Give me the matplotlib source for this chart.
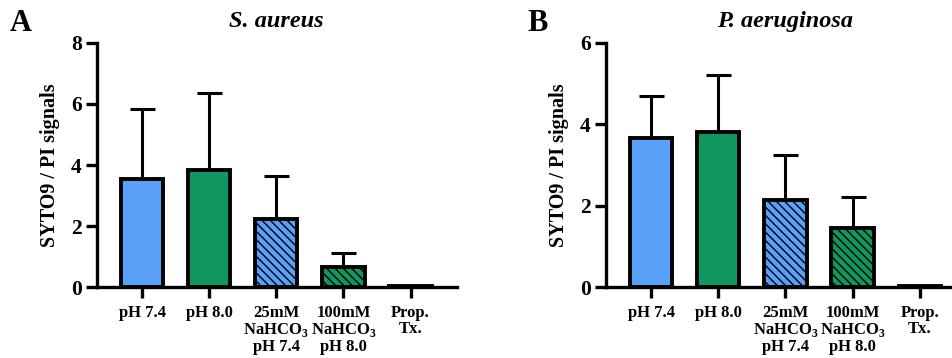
import matplotlib
matplotlib.use("Agg")
import matplotlib.pyplot as plt
import numpy as np

plt.rcParams['font.family'] = ['Liberation Serif', 'DejaVu Serif']
plt.rcParams['font.weight'] = 'bold'
plt.rcParams['hatch.linewidth'] = 1.0
plt.rcParams['mathtext.fontset'] = 'custom'
plt.rcParams['mathtext.rm'] = 'Liberation Serif:bold'
plt.rcParams['mathtext.bf'] = 'Liberation Serif:bold'

categories = ["pH 7.4", "pH 8.0", "25mM\nNaHCO$_3$\npH 7.4", "100mM\nNaHCO$_3$\npH 8.0", "Prop.\nTx."]

saureus_mean = [3.55, 3.85, 2.22, 0.65, 0.02]
saureus_err = [2.30, 2.50, 1.43, 0.48, 0.0]

paerug_mean = [3.66, 3.82, 2.14, 1.45, 0.02]
paerug_err = [1.04, 1.39, 1.10, 0.76, 0.0]

colors = ["#58A0F8", "#10965F", "#58A0F8", "#10965F", "#FFFFFF"]
hatches = ["", "", "\\\\\\\\", "\\\\\\\\", ""]

fig = plt.figure(figsize=(9.53, 3.58), dpi=100)

def panel(rect, means, errs, ylim, yticks, title, title_x, letter, letter_x):
    ax = fig.add_axes(rect)
    x = np.arange(len(categories))
    ax.errorbar(x, means, yerr=[np.zeros(len(errs)), errs], fmt='none',
                ecolor='black', elinewidth=2.2, capsize=9, capthick=2.2, zorder=1)
    bars = ax.bar(x, means, width=0.63, color=colors, edgecolor='black',
                  linewidth=2.8, zorder=2)
    for b, h in zip(bars, hatches):
        b.set_hatch(h)
    ax.set_xlim(-0.67, 4.69)
    ax.set_ylim(*ylim)
    ax.set_yticks(yticks)
    ax.set_xticks(x)
    ax.set_xticklabels(categories, fontsize=12, fontweight='bold', linespacing=1.0)
    for lab in ax.get_yticklabels():
        lab.set_fontsize(15.5)
        lab.set_fontweight('bold')
    for s in ['top', 'right']:
        ax.spines[s].set_visible(False)
    for s in ['left', 'bottom']:
        ax.spines[s].set_linewidth(2.4)
    ax.tick_params(axis='both', width=2.4, length=8, direction='out')
    ax.tick_params(axis='y', pad=3)
    ax.tick_params(axis='x', pad=5)
    ax.set_ylabel("SYTO9 / PI signals", fontsize=14.5, fontweight='bold', labelpad=8)
    fig.text(title_x, 0.94, title,
             fontsize=17.5, fontstyle='italic', fontweight='bold', ha='center', va='center')
    fig.text(letter_x, 0.935, letter, fontsize=22, fontweight='bold', ha='left', va='center')
    return ax

panel([0.1018, 0.1983, 0.3777, 0.6816], saureus_mean, saureus_err, (0, 8), [0, 2, 4, 6, 8],
      "S. aureus", 0.290, "A", 0.010)
panel([0.636, 0.1983, 0.3777, 0.6816], paerug_mean, paerug_err, (0, 6), [0, 2, 4, 6],
      "P. aeruginosa", 0.824, "B", 0.553)

fig.savefig("out.png", dpi=100)
